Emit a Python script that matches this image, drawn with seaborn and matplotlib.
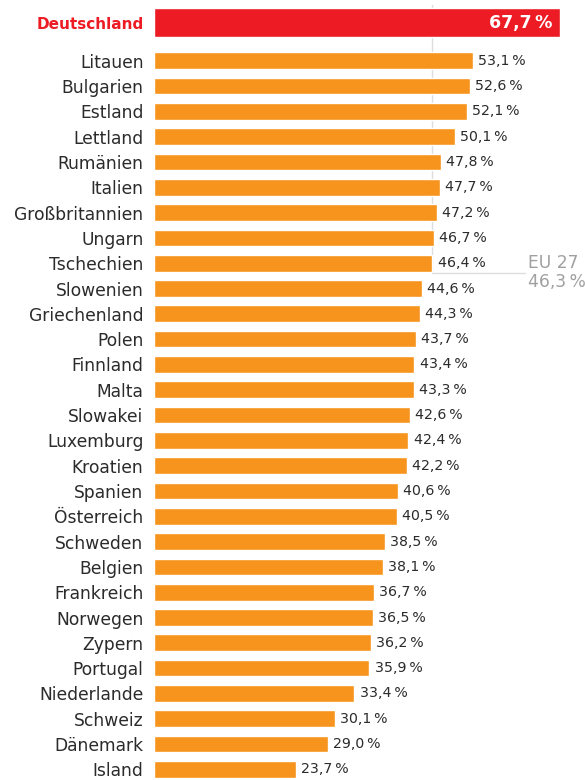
import matplotlib
matplotlib.use("Agg")
import matplotlib.pyplot as plt
import seaborn as sns
import pandas as pd

# data
highlight_country = "Deutschland"
highlight_value = 67.7
countries = ["Litauen", "Bulgarien", "Estland", "Lettland", "Rumänien", "Italien",
             "Großbritannien", "Ungarn", "Tschechien", "Slowenien", "Griechenland",
             "Polen", "Finnland", "Malta", "Slowakei", "Luxemburg", "Kroatien",
             "Spanien", "Österreich", "Schweden", "Belgien", "Frankreich", "Norwegen",
             "Zypern", "Portugal", "Niederlande", "Schweiz", "Dänemark", "Island"]
values = [53.1, 52.6, 52.1, 50.1, 47.8, 47.7, 47.2, 46.7, 46.4, 44.6, 44.3, 43.7,
          43.4, 43.3, 42.6, 42.4, 42.2, 40.6, 40.5, 38.5, 38.1, 36.7, 36.5, 36.2,
          35.9, 33.4, 30.1, 29.0, 23.7]
eu_label = "EU 27"
eu_value = 46.3

ORANGE = "#F7941D"
RED = "#ED1C24"
TEXT = "#2b2b2b"
GREY = "#a0a0a0"
LINE = "#dddddd"


def fmt(v):
    return f"{v:.1f}".replace(".", ",") + "\u2009%"


sns.set_style("white")
plt.rcParams["font.family"] = ["DejaVu Sans"]

df = pd.DataFrame({"Land": countries, "Wert": values})

fig = plt.figure(figsize=(5.85, 7.8), dpi=100)
ax = fig.add_axes([154 / 585, 0, 431 / 585, 1])

sns.barplot(data=df, x="Wert", y="Land", orient="h", color=ORANGE,
            saturation=1, width=0.66, ax=ax, zorder=2)

de_y = -1.51
ax.barh(de_y, highlight_value, height=1.16, color=RED, zorder=2)
ax.text(highlight_value - 1.35, de_y, fmt(highlight_value), color="white",
        fontsize=12.5, fontweight="bold", ha="right", va="center", zorder=3)

# value labels
for i, v in enumerate(values):
    ax.text(v + 0.85, i, fmt(v), color=TEXT, fontsize=10.2, ha="left", va="center")

# EU reference line
row_eu = 8.38
ax.plot([eu_value, eu_value], [-2.22, row_eu], color=LINE, lw=1, zorder=1)
ax.plot([eu_value, 61.8], [row_eu, row_eu], color=LINE, lw=1, zorder=1)
ax.text(62.3, 8.19, eu_label, color=GREY, fontsize=12.3, ha="left", va="baseline")
ax.text(62.3, 8.95, fmt(eu_value), color=GREY, fontsize=12.3, ha="left", va="baseline")

ax.set_yticks([de_y] + list(range(len(countries))))
ax.set_yticklabels([highlight_country] + countries)
ax.tick_params(axis="y", length=0, pad=7.5, labelsize=12.3, labelcolor=TEXT)
lab = ax.get_yticklabels()[0]
lab.set_color(RED)
lab.set_fontweight("bold")
lab.set_fontsize(11)

ax.set_xlim(0, 71.83)
ax.set_ylim(28.42, -2.40)
ax.set_xticks([])
ax.set_xlabel("")
ax.set_ylabel("")
sns.despine(ax=ax, left=True, bottom=True)

fig.savefig("out.png", dpi=100)
